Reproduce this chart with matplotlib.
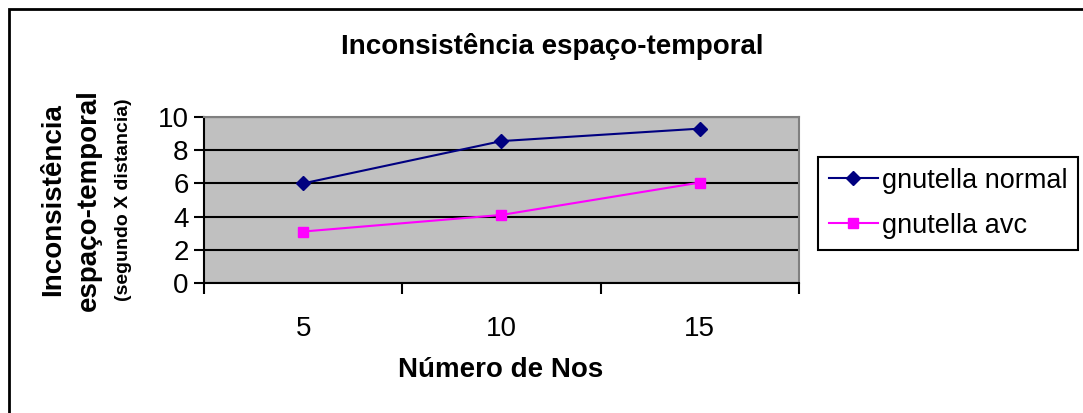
import matplotlib
matplotlib.use("Agg")
import matplotlib.pyplot as plt
from matplotlib.patches import Rectangle
import numpy as np

plt.rcParams["font.family"] = ["Liberation Sans", "DejaVu Sans"]

# chart data
nodes = ["5", "10", "15"]
gnutella_normal = [6.0, 8.55, 9.3]
gnutella_avc = [3.1, 4.1, 6.05]
y_ticks = [0, 2, 4, 6, 8, 10]

W, H = 1083, 413
fig = plt.figure(figsize=(W / 100, H / 100), dpi=100)

# plot area in pixel terms
left, right, top, bottom = 204, 799, 117, 283
ax = fig.add_axes([left / W, 1 - bottom / H, (right - left) / W, (bottom - top) / H])
ax.set_facecolor("#C0C0C0")

x = np.arange(len(nodes))
ax.plot(x, gnutella_normal, color="#000080", lw=1.5, marker="D", ms=7.5,
        mfc="#000080", mec="#000080", label="gnutella normal", zorder=3)
ax.plot(x, gnutella_avc, color="#FF00FF", lw=1.5, marker="s", ms=7.5,
        mfc="#FF00FF", mec="#FF00FF", label="gnutella avc", zorder=3)

ax.set_xlim(-0.5, len(nodes) - 0.5)
ax.set_ylim(0, 10)
ax.set_yticks(y_ticks)
ax.set_yticklabels([str(v) for v in y_ticks], fontsize=20)
ax.yaxis.grid(True, color="black", lw=1.5)
ax.set_axisbelow(True)

# category boundaries get the tick marks, labels sit between them
ax.set_xticks(np.arange(len(nodes) + 1) - 0.5)
ax.set_xticklabels([])
ax.set_xticks(x, minor=True)
ax.set_xticklabels(nodes, minor=True, fontsize=20)
ax.tick_params(axis="x", which="major", direction="out", length=8, width=1.5, color="black")
ax.tick_params(axis="x", which="minor", length=0, pad=24)
ax.tick_params(axis="y", direction="out", length=7, width=1.5, color="black", pad=4)

for side in ("top", "right"):
    ax.spines[side].set_color("#808080")
    ax.spines[side].set_linewidth(1.5)
for side in ("left", "bottom"):
    ax.spines[side].set_color("black")
    ax.spines[side].set_linewidth(1.5)

fig.text(552 / W, 1 - 46 / H, "Inconsistência espaço-temporal", ha="center", va="center",
         fontsize=20, fontweight="bold")
fig.text(501 / W, 1 - 370 / H, "Número de Nos", ha="center", va="center",
         fontsize=20, fontweight="bold")
ycenter = 1 - 200 / H
fig.text(53 / W, ycenter, "Inconsistência", rotation=90, ha="center", va="center",
         fontsize=20, fontweight="bold")
fig.text(89 / W, ycenter, "espaço-temporal", rotation=90, ha="center", va="center",
         fontsize=20, fontweight="bold")
fig.text(123.5 / W, ycenter, "(segundo X distancia)", rotation=90, ha="center", va="center",
         fontsize=14, fontweight="bold")

leg = fig.legend(loc="upper left", bbox_to_anchor=(818 / W, 1 - 157 / H), fontsize=19.5,
                 frameon=True, fancybox=False, framealpha=1, edgecolor="black",
                 handlelength=1.8, handletextpad=0.15, borderpad=0.4, labelspacing=0.7,
                 borderaxespad=0)
leg.get_frame().set_linewidth(1.5)

# outer chart border
fig.patches.append(Rectangle((9 / W, -0.2), 1.2, 1.2 - 9 / H, transform=fig.transFigure,
                             fill=False, edgecolor="black", lw=2))

fig.savefig("out.png", dpi=100)
